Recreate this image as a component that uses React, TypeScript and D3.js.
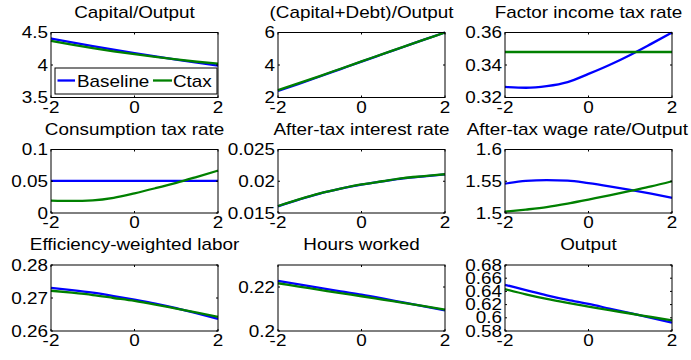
import React from 'react';
import * as d3 from 'd3';

// horizon (x axis) and its ticks
const horizon = [-2, -1.5, -1, -0.5, 0, 0.5, 1, 1.5, 2];
const xTicks = [-2, 0, 2];

// Capital/Output
const capOutBase = [4.408, 4.347, 4.29, 4.235, 4.182, 4.132, 4.084, 4.037, 3.99];
const capOutCtax = [4.37, 4.313, 4.26, 4.211, 4.166, 4.124, 4.085, 4.05, 4.02];
const capOutTicks = [3.5, 4, 4.5];

// (Capital+Debt)/Output
const capDebtBase = [2.4, 2.84, 3.29, 3.75, 4.21, 4.66, 5.11, 5.56, 6.0];
const capDebtCtax = [2.45, 2.88, 3.32, 3.77, 4.22, 4.67, 5.12, 5.56, 6.0];
const capDebtTicks = [2, 4, 6];

// Factor income tax rate
const factorTaxBase = [0.3265, 0.326, 0.327, 0.3295, 0.3345, 0.34, 0.3462, 0.353, 0.36];
const factorTaxCtax = [0.348, 0.348, 0.348, 0.348, 0.348, 0.348, 0.348, 0.348, 0.348];
const factorTaxTicks = [0.32, 0.34, 0.36];

// Consumption tax rate
const consTaxBase = [0.0505, 0.0505, 0.0505, 0.0505, 0.0505, 0.0505, 0.0505, 0.0505, 0.0505];
const consTaxCtax = [0.0195, 0.019, 0.02, 0.024, 0.031, 0.039, 0.0475, 0.057, 0.0668];
const consTaxTicks = [0, 0.05, 0.1];

// After-tax interest rate
const rateBase = [0.01605, 0.0171, 0.01806, 0.01882, 0.01947, 0.01998, 0.02046, 0.02078, 0.02108];
const rateCtax = [0.0161, 0.01715, 0.0181, 0.01885, 0.0195, 0.02, 0.0205, 0.0208, 0.0211];
const rateTicks = [0.015, 0.02, 0.025];

// After-tax wage rate/Output
const wageBase = [1.5462, 1.5505, 1.5518, 1.551, 1.547, 1.542, 1.5364, 1.5304, 1.5239];
const wageCtax = [1.5022, 1.5054, 1.5092, 1.5147, 1.5212, 1.5277, 1.5348, 1.5418, 1.55];
const wageTicks = [1.5, 1.55, 1.6];

// Efficiency-weighted labor
const effLaborBase = [0.2731, 0.2724, 0.2716, 0.2706, 0.2695, 0.2683, 0.2669, 0.2653, 0.2637];
const effLaborCtax = [0.2722, 0.2716, 0.2709, 0.27, 0.2691, 0.268, 0.2668, 0.2656, 0.2643];
const effLaborTicks = [0.26, 0.27, 0.28];

// Hours worked
const hoursBase = [0.2228, 0.2212, 0.2196, 0.218, 0.2165, 0.2148, 0.213, 0.2112, 0.2094];
const hoursCtax = [0.2217, 0.2202, 0.2187, 0.2172, 0.2158, 0.2143, 0.2128, 0.2113, 0.2097];
const hoursTicks = [0.2, 0.22];
const hoursLim = [0.2, 0.23];

// Output
const outputBase = [0.65, 0.642, 0.634, 0.627, 0.621, 0.614, 0.607, 0.6, 0.5925];
const outputCtax = [0.6435, 0.6355, 0.6285, 0.6225, 0.617, 0.6115, 0.6065, 0.6012, 0.596];
const outputTicks = [0.58, 0.6, 0.62, 0.64, 0.66, 0.68];

const seriesNames = ['Baseline', 'Ctax'];
const seriesColors = ['#0000ff', '#008000'];

const panels = [
  { title: 'Capital/Output', base: capOutBase, ctax: capOutCtax, ticks: capOutTicks, lim: null, legend: true },
  { title: '(Capital+Debt)/Output', base: capDebtBase, ctax: capDebtCtax, ticks: capDebtTicks, lim: null },
  { title: 'Factor income tax rate', base: factorTaxBase, ctax: factorTaxCtax, ticks: factorTaxTicks, lim: null },
  { title: 'Consumption tax rate', base: consTaxBase, ctax: consTaxCtax, ticks: consTaxTicks, lim: null },
  { title: 'After-tax interest rate', base: rateBase, ctax: rateCtax, ticks: rateTicks, lim: null },
  { title: 'After-tax wage rate/Output', base: wageBase, ctax: wageCtax, ticks: wageTicks, lim: null },
  { title: 'Efficiency-weighted labor', base: effLaborBase, ctax: effLaborCtax, ticks: effLaborTicks, lim: null },
  { title: 'Hours worked', base: hoursBase, ctax: hoursCtax, ticks: hoursTicks, lim: hoursLim },
  { title: 'Output', base: outputBase, ctax: outputCtax, ticks: outputTicks, lim: null },
];

const W = 691;
const H = 360;
const colLeft = [51, 278, 505];
const plotW = 167;
const rowTop = [32.5, 149.5, 265];
const rowH = [65, 63.5, 66];
const FONT = '"Liberation Sans", Arial, Helvetica, sans-serif';
const FS = 16;
const SX = 1.18; // fonts in the picture are a bit wide
const TICK = 2;

// rough text width, used to keep long titles inside the picture
let ctx: CanvasRenderingContext2D | null = null;
function textWidth(s: string) {
  if (!ctx) ctx = document.createElement('canvas').getContext('2d');
  if (!ctx) return s.length * FS * 0.55 * SX;
  ctx.font = `${FS}px ${FONT}`;
  return ctx.measureText(s).width * SX;
}

function Label({ x, y, anchor = 'middle', dy = 0, children }: any) {
  return (
    <text
      transform={`translate(${x},${y}) scale(${SX},1)`}
      textAnchor={anchor}
      dy={dy}
      fontFamily={FONT}
      fontSize={FS}
      fill="#000"
    >
      {children}
    </text>
  );
}

function Panel({ p, idx }: any) {
  const left = colLeft[idx % 3];
  const top = rowTop[Math.floor(idx / 3)];
  const h = rowH[Math.floor(idx / 3)];
  const right = left + plotW;
  const bottom = top + h;
  const lim = p.lim || d3.extent(p.ticks as number[]);

  const x = d3.scaleLinear().domain([-2, 2]).range([left, right]);
  const y = d3.scaleLinear().domain(lim as [number, number]).range([bottom, top]);
  const line = d3
    .line<number>()
    .x((_, i) => x(horizon[i]))
    .y((d) => y(d))
    .curve(d3.curveMonotoneX);

  const tw = textWidth(p.title);
  const titleX = Math.min((left + right) / 2, W - 3 - tw / 2);

  return (
    <g>
      <rect x={left} y={top} width={plotW} height={h} fill="#fff" />
      {[p.base, p.ctax].map((s: number[], i: number) => (
        <path key={i} d={line(s) || ''} fill="none" stroke={seriesColors[i]} strokeWidth={2.3} />
      ))}
      <rect x={left} y={top} width={plotW} height={h} fill="none" stroke="#000" strokeWidth={1} />
      {xTicks.map((t) => (
        <g key={'x' + t}>
          <line x1={x(t)} x2={x(t)} y1={bottom} y2={bottom - TICK} stroke="#000" />
          <line x1={x(t)} x2={x(t)} y1={top} y2={top + TICK} stroke="#000" />
          <Label x={x(t)} y={bottom + 15}>{String(t)}</Label>
        </g>
      ))}
      {p.ticks.map((t: number) => (
        <g key={'y' + t}>
          <line x1={left} x2={left + TICK} y1={y(t)} y2={y(t)} stroke="#000" />
          <line x1={right} x2={right - TICK} y1={y(t)} y2={y(t)} stroke="#000" />
          <Label x={left - 3} y={y(t)} anchor="end" dy="0.35em">{String(t)}</Label>
        </g>
      ))}
      <Label x={titleX} y={top - 15}>{p.title}</Label>
      {p.legend && (
        <g>
          <rect x={left + 4} y={top + 35.5} width={162} height={26} fill="#fff" stroke="#000" />
          <line x1={left + 6.5} x2={left + 24} y1={top + 48} y2={top + 48} stroke={seriesColors[0]} strokeWidth={2.3} />
          <Label x={left + 26} y={top + 54.5} anchor="start">{seriesNames[0]}</Label>
          <line x1={left + 102} x2={left + 121} y1={top + 48} y2={top + 48} stroke={seriesColors[1]} strokeWidth={2.3} />
          <Label x={left + 122} y={top + 54.5} anchor="start">{seriesNames[1]}</Label>
        </g>
      )}
    </g>
  );
}

export default function App() {
  return (
    <svg
      width={W}
      height={H}
      style={{ position: 'absolute', left: 0, top: 0, background: '#fff' }}
    >
      <rect width={W} height={H} fill="#fff" />
      {panels.map((p, i) => (
        <Panel key={i} p={p} idx={i} />
      ))}
    </svg>
  );
}
